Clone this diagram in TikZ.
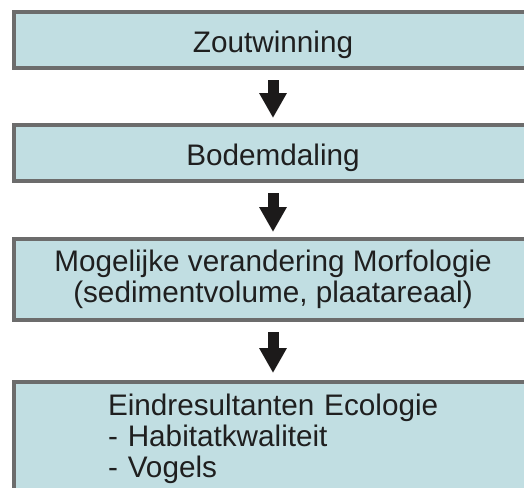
\documentclass[tikz,border=0pt]{standalone}
\usepackage{fontspec}
\setmainfont{Liberation Sans}
\usetikzlibrary{arrows.meta}
\definecolor{boxfill}{RGB}{193,222,226}
\definecolor{boxline}{RGB}{108,108,108}
\definecolor{arrowcol}{RGB}{28,26,26}
\tikzstyle{stap} = [rectangle, 
minimum width=518pt, 
draw=boxline, 
line width=4pt, 
fill=boxfill, 
text=black!88, 
font=\fontsize{29.7}{31}\selectfont, 
align=center]
\tikzstyle{stap_links} = [rectangle, 
draw=boxline, 
line width=4pt, 
fill=boxfill, 
text=black!88, 
font=\fontsize{29.7}{31}\selectfont, 
text width=380pt, 
align=left, 
inner xsep=94pt, 
inner ysep=12pt]
\tikzstyle{pijl} = [line width=11pt, draw=arrowcol, -{Triangle[length=25pt, width=26pt]}]

\begin{document}
\begin{tikzpicture}[x=1pt, y=-1pt]
\path[use as bounding box, clip] (0,0) rectangle (524,487);

\node (zout) [stap, minimum height=56pt, text height=25pt, text depth=0pt] at (273,40) {Zoutwinning};
\node (bodem) [stap, minimum height=56pt, text height=25pt, text depth=0pt] at (273,153) {Bodemdaling};
\node (morf) [stap, minimum height=81pt] at (273,279.5) {
Mogelijke verandering Morfologie \\
(sedimentvolume, plaatareaal)
};

% laatste vak
\node (eco) [stap_links, anchor=north west] at (12,380) {
Eindresultanten Ecologie \\
- Habitatkwaliteit \\
- Vogels
};

\draw [pijl] ([yshift=-10pt]zout.south) -- ([yshift=5pt]bodem.north);
\draw [pijl] ([yshift=-10pt]bodem.south) -- ([yshift=5pt]morf.north);
\draw [pijl] ([yshift=-10pt]morf.south) -- ([yshift=7pt]eco.north -| morf.south);

\end{tikzpicture}
\end{document}
